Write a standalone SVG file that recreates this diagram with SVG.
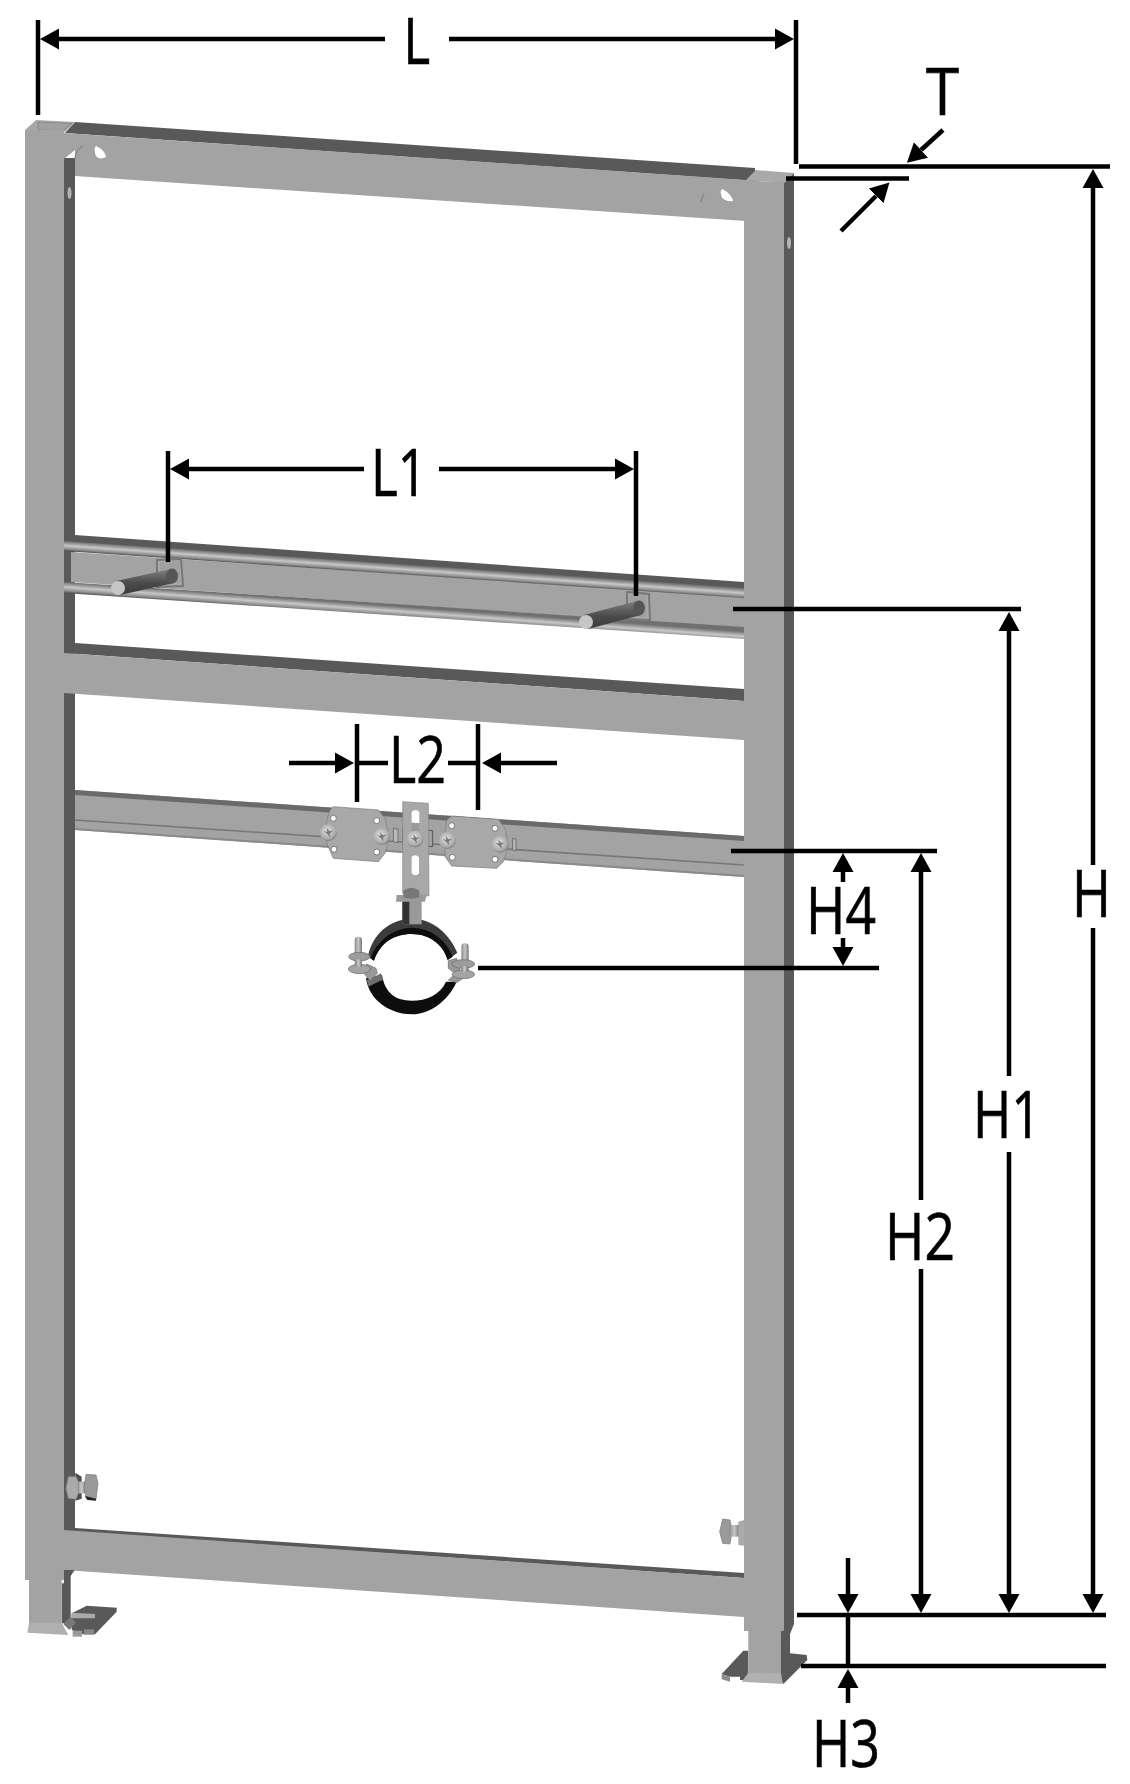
<svg xmlns="http://www.w3.org/2000/svg" width="1130" height="1784" viewBox="0 0 1130 1784">
<style>
.g{fill:#a3a3a3}.d{fill:#595959}.l{fill:#a9a9a9}.w{fill:#fff}
.p{fill:#a8a8a8;stroke:#777;stroke-width:2}
#connectors line{stroke:#000;stroke-width:4.5;fill:none}
.a{marker-end:url(#head)}
text{font-family:"Open Sans","Liberation Sans",sans-serif;font-size:65px;fill:#000;stroke:#000;stroke-width:.7}
</style>
<defs>
<marker id="head" markerUnits="userSpaceOnUse" markerWidth="20" markerHeight="22" refX="0" refY="11" orient="auto"><path d="M0 .5L19 11L0 21.5z" fill="#000"/></marker>
<linearGradient id="tube1" gradientUnits="userSpaceOnUse" x1="64" y1="541" x2="63.300" y2="551"><stop offset="0" stop-color="#707070"/><stop offset=".45" stop-color="#c8c8c8"/><stop offset=".8" stop-color="#8a8a8a"/><stop offset="1" stop-color="#4a4a4a"/></linearGradient>
<linearGradient id="tube2" gradientUnits="userSpaceOnUse" x1="64" y1="582" x2="63.200" y2="593"><stop offset="0" stop-color="#707070"/><stop offset=".45" stop-color="#c8c8c8"/><stop offset=".8" stop-color="#8a8a8a"/><stop offset="1" stop-color="#4a4a4a"/></linearGradient>
<linearGradient id="pin" x1="0" y1="0" x2="0" y2="1"><stop offset="0" stop-color="#808080"/><stop offset=".55" stop-color="#4a4a4a"/><stop offset="1" stop-color="#3a3a3a"/></linearGradient>
<radialGradient id="screw" cx=".45" cy=".4" r=".65"><stop offset="0" stop-color="#e2e2e2"/><stop offset=".75" stop-color="#a8a8a8"/><stop offset="1" stop-color="#666"/></radialGradient>
<linearGradient id="bolt" x1="0" y1="0" x2="1" y2="0"><stop offset="0" stop-color="#8a8a8a"/><stop offset=".5" stop-color="#c8c8c8"/><stop offset="1" stop-color="#777"/></linearGradient>
<g id="scr"><circle r="25" fill="url(#screw)"/><path d="M-13 -4L-3 -3L-5 -14L4 -4L14 -6L4 3L6 14L-3 4Z" fill="#7a7a7a"/></g>
</defs>

<g id="frame">
<rect class="d" x="64" y="158" width="11" height="1380"/>
<polygon class="d" points="75,122 755,168 756,181 65,133"/>
<polygon class="l" points="756,170 794,173 784,183 746,180"/>
<polygon class="d" points="784,183 794,173 794,1624 790,1634 790,1675 781,1683"/>
<polygon class="l" points="25,130 36,120 75,122 65,132"/>
<polygon points="38,122 72,123.500 63,131 38,130" fill="#a0a0a0" stroke="#888" stroke-width="1"/>

<g id="channel-upper">
<polygon class="d" points="75,535 744,582 744,590 75,543"/>
<polygon class="g" points="71,552 744,597 744,628 71,582"/>
<polygon fill="url(#tube1)" points="64,541 744,588 744,598 64,551"/>
<polygon fill="url(#tube2)" points="64,582 744,627 744,639 64,593"/>
</g>

<polygon class="d" points="75,643 744,689 744,701 64,653"/>
<polygon class="g" points="64,653 744,701 744,740 64,693"/>
<polygon class="g" points="64,133 746,180 746,221 75,176 75,150 64,159"/>
<polygon class="d" points="75,1528 744,1573 744,1578 64,1531"/>
<polygon class="g" points="64,1530 744,1578 744,1617 64,1570"/>
<g id="channel-lower">
<polygon class="g" points="75,790 744,836 744,877 75,830"/>
<polygon fill="#6a6a6a" points="75,790 744,836 744,841 75,795"/>
<line x1="75" y1="820" x2="744" y2="865" stroke="#777" stroke-width="1.500"/>
<line x1="75" y1="829" x2="744" y2="876" stroke="#8a8a8a" stroke-width="2"/>
</g>
<rect class="g" x="25" y="130" width="39" height="1450"/>
<rect class="g" x="744" y="182" width="40" height="1449"/>
<polygon class="g" points="746,180 784,183 784,200 746,200"/>
<path class="w" d="M96 146C101 148 106 153 106 157C101 160 95 158 95 152C94 149 95 147 96 146Z"/>
<path class="w" d="M722 189C727 191 733 197 733 201C727 202 721 199 721 194C720 192 721 190 722 189Z"/>
<path d="M75 158Q76 150 83 146" fill="none" stroke="#7a7a7a" stroke-width="1"/>
<path d="M701 202Q702 197 704 194" fill="none" stroke="#7a7a7a" stroke-width="1"/>
<ellipse cx="69.500" cy="193" rx="2" ry="6" fill="#b5b5b5"/>
<ellipse cx="789" cy="243" rx="2" ry="6" fill="#b5b5b5"/>
</g>

<g id="pin-left">
<path class="p" d="M157 560L181 559L183 586L157 587Z"/>
<rect x="160" y="562" width="20" height="21" fill="#a0a0a0"/>
<polygon fill="url(#pin)" points="116,581 171,569 174,583 120,595"/>
<ellipse cx="172" cy="576" rx="6" ry="7.500" fill="#555"/>
<circle cx="118" cy="588" r="7" fill="#c6c6c6"/>
</g>
<g id="pin-right">
<path class="p" d="M627 592L649 594L650 620L627 619Z"/>
<rect x="629" y="595" width="18" height="22" fill="#a0a0a0"/>
<polygon fill="url(#pin)" points="584,615 637,601 641,615 588,629"/>
<ellipse cx="639" cy="608" rx="6" ry="7.500" fill="#555"/>
<circle cx="586" cy="622" r="7" fill="#c6c6c6"/>
</g>

<g id="clamp" transform="translate(270 760) scale(.33333)">
<path d="M398 205L488 212V260L398 255Z" fill="#a0a0a0" stroke="#555" stroke-width="3"/>
<path class="p" stroke-width="4" d="M180 150L190 140L325 150L345 175L358 230L345 280L325 305L190 295L170 250L170 180Z"/>
<path class="p" stroke-width="4" d="M530 180L545 168L685 178L705 205L715 260L700 305L680 325L545 318L525 290L525 220Z"/>
<g fill="#fff" stroke="#777" stroke-width="3">
<circle cx="190" cy="175" r="9"/><circle cx="192" cy="268" r="9"/><circle cx="320" cy="182" r="9"/><circle cx="320" cy="276" r="9"/>
<circle cx="545" cy="197" r="9"/><circle cx="547" cy="292" r="9"/><circle cx="675" cy="205" r="9"/><circle cx="675" cy="298" r="9"/>
</g>
<path d="M398 125L475 130L477 408L398 400Z" fill="#a8a8a8" stroke="#888" stroke-width="2"/>
<path d="M425 155Q436 145 448 155V190L425 188Z" class="w"/>
<path d="M425 188L448 190V235L425 233Z" fill="#9a9a9a"/>
<path d="M425 290Q436 280 447 292V340Q436 352 425 340Z" class="w"/>
<use href="#scr" x="175" y="218"/><use href="#scr" x="335" y="230"/><use href="#scr" x="435" y="237"/><use href="#scr" x="532" y="242"/><use href="#scr" x="690" y="253"/>
<path d="M370 205L384 208V248L370 245ZM728 235L738 238V272L728 270Z" fill="#b8b8b8" stroke="#555" stroke-width="2"/>
<path d="M294 590C305 525 360 476 425 476C490 476 540 525 562 578L533 600C520 555 480 522 425 522C370 522 330 550 312 602Z" fill="#3c3c3c"/>
<path d="M302 595C318 545 370 503 425 503C480 503 528 538 548 590L533 600C520 555 480 522 425 522C370 522 330 550 312 602Z" fill="#0d0d0d"/>
<path d="M288 655C298 725 365 763 425 763C480 763 532 725 560 665L528 665C510 705 470 722 425 722C378 722 345 700 336 645Z" fill="#0d0d0d"/>
<path d="M290 660C305 655 315 650 332 640L340 660C325 665 310 672 296 680Z" fill="#6e6e6e"/>
<path d="M397 420H455V493H397Z" fill="#999"/>
<path d="M397 420H418V493H397Z" fill="#333"/>
<path d="M380 405H470L465 425H378Z" fill="#9a9a9a"/>
<path d="M400 392Q424 375 448 392V412Q424 420 400 412Z" fill="#777"/>
<path d="M290 612L318 625L322 640L300 662L282 640Z" fill="#999" stroke="#666" stroke-width="2"/>
<path d="M535 602L560 595L570 630L555 640L535 625ZM535 660L560 640L585 650L560 668Z" fill="#999" stroke="#666" stroke-width="2"/>
<rect x="254" y="530" width="22" height="105" rx="10" fill="url(#bolt)"/>
<rect x="574" y="550" width="22" height="100" rx="10" fill="url(#bolt)"/>
<ellipse cx="268" cy="590" rx="32" ry="13" fill="#9c9c9c" stroke="#666" stroke-width="2"/>
<ellipse cx="268" cy="627" rx="33" ry="14" fill="#a4a4a4" stroke="#666" stroke-width="2"/>
<ellipse cx="580" cy="612" rx="34" ry="13" fill="#9c9c9c" stroke="#666" stroke-width="2"/>
<ellipse cx="580" cy="643" rx="34" ry="13" fill="#a4a4a4" stroke="#666" stroke-width="2"/>
<rect x="256" y="598" width="20" height="22" fill="url(#bolt)"/>
<rect x="574" y="618" width="20" height="18" fill="url(#bolt)"/>
</g>

<g id="bolt-left" transform="translate(0 1440) scale(.33333)">
<path d="M226 98L245 110V176L226 182Z" fill="#4e4e4e"/>
<rect x="230" y="125" width="30" height="35" fill="url(#bolt)"/>
<path d="M258 103L288 105L294 130L288 178L258 175L252 140Z" fill="#9a9a9a" stroke="#777" stroke-width="2"/>
<path d="M256 168L288 176V182L262 180Z" fill="#222"/>
<path d="M205 110L228 110L235 125V160L228 178L205 175L198 145Z" fill="#aaa" stroke="#888" stroke-width="2"/>
</g>
<g id="bolt-right" transform="translate(680 1480) scale(.33333)">
<path d="M128 117L150 120L157 150L150 192L128 190L119 155Z" fill="#9a9a9a" stroke="#777" stroke-width="2"/>
<rect x="148" y="135" width="30" height="35" fill="url(#bolt)"/>
<path d="M175 125L192 120V197L175 195Z" fill="#aaa"/>
</g>

<g id="foot-left" transform="translate(0 1440) scale(.33333)">
<path class="d" d="M215 520L260 497L350 503L350 515L285 583L250 583L215 570Z"/>
<path d="M215 518L285 522V535L215 535Z" fill="#aaa"/>
<path d="M192 390H224L212 408V550H185V430H192Z" class="d"/>
<rect class="g" x="87" y="420" width="98" height="130"/>
<path d="M87 548L185 548L205 585L82 578Z" fill="#b0b0b0"/>
<path d="M190 552L212 530L228 548L208 570Z" fill="#777"/>
<rect x="218" y="572" width="28" height="18" fill="#999"/>
<rect x="252" y="568" width="30" height="16" fill="#888"/>
</g>
<g id="foot-right" transform="translate(680 1480) scale(.33333)">
<path class="d" d="M125 582L190 512L205 512L205 600L180 600V590H150Z"/>
<path fill="#8c8c8c" d="M125 582L150 590V605L125 598Z"/>
<path class="d" d="M303 460L330 432V520L380 525L382 540L310 612L303 600Z"/>
<rect class="g" x="205" y="452" width="98" height="130"/>
<path d="M205 578L303 580L308 612L185 605Z" fill="#b0b0b0"/>
</g>

<g id="connectors">
<line x1="38" y1="20" x2="38" y2="115"/>
<line x1="796" y1="20" x2="796" y2="164"/>
<line class="a" x1="385" y1="39" x2="59" y2="39"/>
<line class="a" x1="449" y1="39" x2="775" y2="39"/>
<line x1="799" y1="166.500" x2="1110" y2="166.500"/>
<line x1="786" y1="178.500" x2="909" y2="178.500"/>
<line class="a" x1="943" y1="130" x2="921" y2="150"/>
<line class="a" x1="841" y1="231" x2="876" y2="196"/>
<line class="a" x1="1093" y1="865" x2="1093" y2="188"/>
<line class="a" x1="1093" y1="928" x2="1093" y2="1594"/>
<line x1="733" y1="609" x2="1021" y2="609"/>
<line class="a" x1="1009" y1="1076" x2="1009" y2="631"/>
<line class="a" x1="1009" y1="1152" x2="1009" y2="1594"/>
<line x1="731" y1="851" x2="937" y2="851"/>
<line class="a" x1="921" y1="1200" x2="921" y2="872"/>
<line class="a" x1="921" y1="1269" x2="921" y2="1594"/>
<line class="a" x1="843" y1="882" x2="843" y2="872"/>
<line class="a" x1="843" y1="938" x2="843" y2="947"/>
<line x1="478" y1="968" x2="879" y2="968"/>
<line x1="797" y1="1615" x2="1106" y2="1615"/>
<line x1="801" y1="1666" x2="1106" y2="1666"/>
<line class="a" x1="848" y1="1558" x2="848" y2="1594"/>
<line x1="848" y1="1615" x2="848" y2="1666"/>
<line class="a" x1="848" y1="1703" x2="848" y2="1688"/>
<line x1="168" y1="451" x2="168" y2="562"/>
<line x1="636" y1="451" x2="636" y2="596"/>
<line class="a" x1="364" y1="469" x2="189" y2="469"/>
<line class="a" x1="439" y1="469" x2="615" y2="469"/>
<line x1="357" y1="724" x2="357" y2="802"/>
<line x1="478" y1="724" x2="478" y2="810"/>
<line class="a" x1="289" y1="763" x2="335" y2="763"/>
<line x1="357" y1="763" x2="388" y2="763"/>
<line x1="448" y1="763" x2="478" y2="763"/>
<line class="a" x1="557" y1="763" x2="501" y2="763"/>
</g>

<g id="labels">
<text x="404.500" y="64" textLength="26" lengthAdjust="spacingAndGlyphs" style="font-family:'Liberation Sans',sans-serif;font-size:67px">L</text>
<text x="926" y="115" textLength="33" lengthAdjust="spacingAndGlyphs">T</text>
<text x="371" y="496" textLength="56" lengthAdjust="spacingAndGlyphs">L1</text>
<text x="389" y="783" textLength="57" lengthAdjust="spacingAndGlyphs">L2</text>
<text x="1072" y="917" textLength="39" lengthAdjust="spacingAndGlyphs">H</text>
<text x="973" y="1138" textLength="68" lengthAdjust="spacingAndGlyphs">H1</text>
<text x="885" y="1260" textLength="70" lengthAdjust="spacingAndGlyphs">H2</text>
<text x="806" y="934" textLength="70" lengthAdjust="spacingAndGlyphs">H4</text>
<text x="812" y="1767" textLength="68" lengthAdjust="spacingAndGlyphs">H3</text>
</g>
</svg>
